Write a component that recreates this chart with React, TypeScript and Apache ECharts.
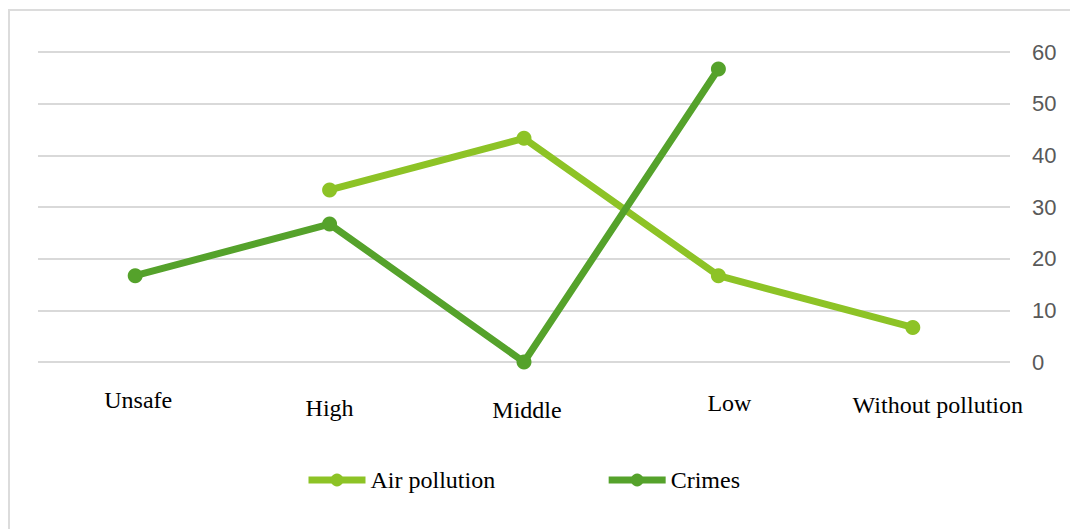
import React, { useEffect, useRef } from "react";
import * as echarts from "echarts";

const categories = ["Unsafe", "High", "Middle", "Low", "Without pollution"];
const airPollution: (number | null)[] = [null, 33.3, 43.3, 16.7, 6.7];
const crimes: (number | null)[] = [16.7, 26.7, 0, 56.7, null];
const yTicks = [0, 10, 20, 30, 40, 50, 60];
const labelKeys = ["a", "b", "c", "d", "e"];
const labelDown = [0, 8, 10, 3, 5];
const labelRight = [3, 0, 3, 11, 25];

export default function App() {
  const ref = useRef<HTMLDivElement>(null);
  useEffect(() => {
    if (!ref.current) return;
    const chart = echarts.init(ref.current, null, { renderer: "svg" });
    const rich: any = {};
    labelKeys.forEach((k, i) => {
      rich[k] = {
        fontFamily: "Liberation Serif",
        fontSize: 24,
        color: "#000000",
        padding: [labelDown[i], 0, 0, labelRight[i] * 2],
      };
    });
    chart.setOption({
      animation: false,
      backgroundColor: "#ffffff",
      graphic: [
        {
          type: "rect",
          shape: { x: 9, y: 10, width: 1100, height: 600 },
          style: { fill: "none", stroke: "#dcdcdc", lineWidth: 2 },
          silent: true,
        },
      ],
      grid: { left: 38, right: 60, top: 52, bottom: 167, containLabel: false },
      legend: {
        left: 300,
        top: 463,
        itemWidth: 57,
        itemHeight: 16,
        itemGap: 110,
        lineStyle: { width: 7 },
        textStyle: { fontFamily: "Liberation Serif", fontSize: 24, color: "#000000" },
        data: ["Air pollution", "Crimes"],
      },
      xAxis: {
        type: "category",
        data: categories,
        boundaryGap: true,
        axisLine: { show: false },
        axisTick: { show: false },
        axisLabel: {
          margin: 26,
          interval: 0,
          formatter: (v: string) => {
            const i = categories.indexOf(v);
            return `{${labelKeys[i]}|${v}}`;
          },
          rich,
        },
      },
      yAxis: {
        type: "value",
        position: "right",
        min: yTicks[0],
        max: yTicks[yTicks.length - 1],
        interval: 10,
        axisLine: { show: false },
        axisTick: { show: false },
        splitLine: { lineStyle: { color: "#d9d9d9", width: 2 } },
        axisLabel: {
          margin: 22,
          fontFamily: "Liberation Sans",
          fontSize: 22,
          color: "#595959",
        },
      },
      series: [
        {
          name: "Air pollution",
          type: "line",
          data: airPollution,
          symbol: "circle",
          symbolSize: 15,
          lineStyle: { width: 7, color: "#8dc326" },
          itemStyle: { color: "#8dc326" },
        },
        {
          name: "Crimes",
          type: "line",
          data: crimes,
          symbol: "circle",
          symbolSize: 15,
          lineStyle: { width: 7, color: "#55a22b" },
          itemStyle: { color: "#55a22b" },
        },
      ],
    });
    return () => chart.dispose();
  }, []);
  return (
    <div
      ref={ref}
      style={{ position: "fixed", left: 0, top: 0, width: 1070, height: 529 }}
    />
  );
}
